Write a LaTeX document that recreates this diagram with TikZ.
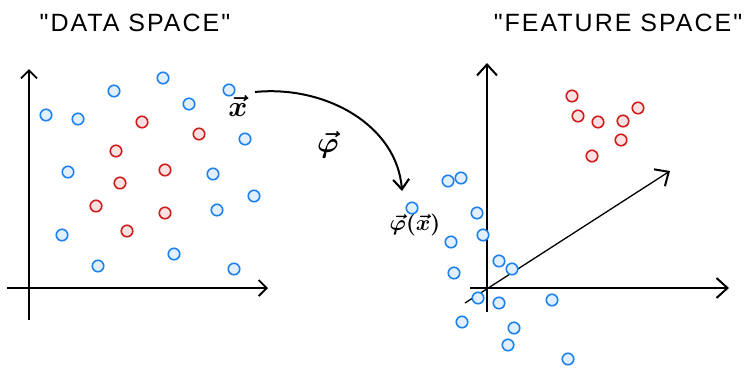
\documentclass[tikz,border=0pt]{standalone}
\usepackage{amsmath}
\usepackage{fontspec}
\newfontfamily\handfont[LetterSpace=8]{Liberation Sans}
\usetikzlibrary{arrows.meta}
\definecolor{bluestroke}{HTML}{1E82EE}
\definecolor{bluefill}{HTML}{E2EFFC}
\definecolor{redstroke}{HTML}{CF1C1C}
\definecolor{redfill}{HTML}{FAE2E2}
\tikzset{
  bpt/.style={circle, draw=bluestroke, fill=bluefill, line width=1.6pt, minimum size=11.5pt, inner sep=0pt},
  rpt/.style={circle, draw=redstroke, fill=redfill, line width=1.6pt, minimum size=11.5pt, inner sep=0pt},
  axis/.style={line width=1.6pt, -{Straight Barb[length=8pt, width=16pt, line width=1.8pt]}},
  bigaxis/.style={line width=1.6pt, -{Straight Barb[length=11pt, width=20pt, line width=2pt]}},
  title/.style={font=\handfont\fontsize{25}{27}\selectfont, inner sep=0pt},
  lbl/.style={inner sep=0pt}
}
\begin{document}
\begin{tikzpicture}[x=1pt, y=-1pt]
\useasboundingbox (0,0) rectangle (749,368);
% titles
\node[title] (t1) at (135,23) {"DATA SPACE"};
\node[title] (t2) at (618,23) {"FEATURE SPACE"};
% left axes
\coordinate (lxs) at (7,288);
\coordinate (lxe) at (268,288);
\coordinate (lys) at (29,320);
\coordinate (lye) at (29,69);
\draw[axis] (lxs) -- (lxe);
\draw[axis] (lys) -- (lye);
% right axes
\coordinate (rxs) at (470,288);
\coordinate (rxe) at (729,288);
\coordinate (rys) at (487,312);
\coordinate (rye) at (487,63);
\coordinate (rds) at (465,303);
\coordinate (rde) at (670,171);
\draw[bigaxis] (rxs) -- (rxe);
\draw[bigaxis] (rys) -- (rye);
\draw[bigaxis, line width=1.3pt] (rds) -- (rde);
% left blue points
\foreach \n/\x/\y in {b1/46/115, b2/78/119, b3/114/91, b4/163/78, b5/189/104, b6/229/90, b7/245/139, b8/68/172, b9/213/174, b10/254/196, b11/217/210, b12/62/235, b13/98/266, b14/174/254, b15/234/269}
  \node[bpt] (\n) at (\x,\y) {};
% left red points
\foreach \n/\x/\y in {r1/142/122, r2/199/134, r3/116/151, r4/165/170, r5/120/183, r6/96/206, r7/165/213, r8/127/231}
  \node[rpt] (\n) at (\x,\y) {};
% right red points
\foreach \n/\x/\y in {fr1/572/96, fr2/578/116, fr3/598/122, fr4/623/121, fr5/638/108, fr6/621/140, fr7/592/156}
  \node[rpt] (\n) at (\x,\y) {};
% right blue points
\foreach \n/\x/\y in {fb1/448/181, fb2/461/178, fb3/477/213, fb4/483/235, fb5/451/242, fb6/454/273, fb7/499/261, fb8/512/269, fb9/478/298, fb10/499/303, fb11/552/300, fb12/462/322, fb13/514/328, fb14/508/345, fb15/568/359}
  \node[bpt] (\n) at (\x,\y) {};
% labels
\node[lbl] (xl) at (238,106) {\scalebox{2.9}{$\boldsymbol{\vec{x}}$}};
\node[lbl] (phil) at (328,145) {\scalebox{2.9}{$\boldsymbol{\vec{\varphi}}$}};
\node[lbl] (phixl) at (415,225) {\scalebox{2.2}{$\boldsymbol{\vec{\varphi}(\vec{x})}$}};
\node[bpt] (fb16) at (412,208) {};
% mapping arrow
\coordinate (ms) at (255,92);
\coordinate (me) at (402,191);
\draw[line width=2pt, -{Straight Barb[length=10pt, width=16pt, line width=2.1pt]}] (ms) .. controls (325,85) and (397,125) .. (me);
\end{tikzpicture}
\end{document}
